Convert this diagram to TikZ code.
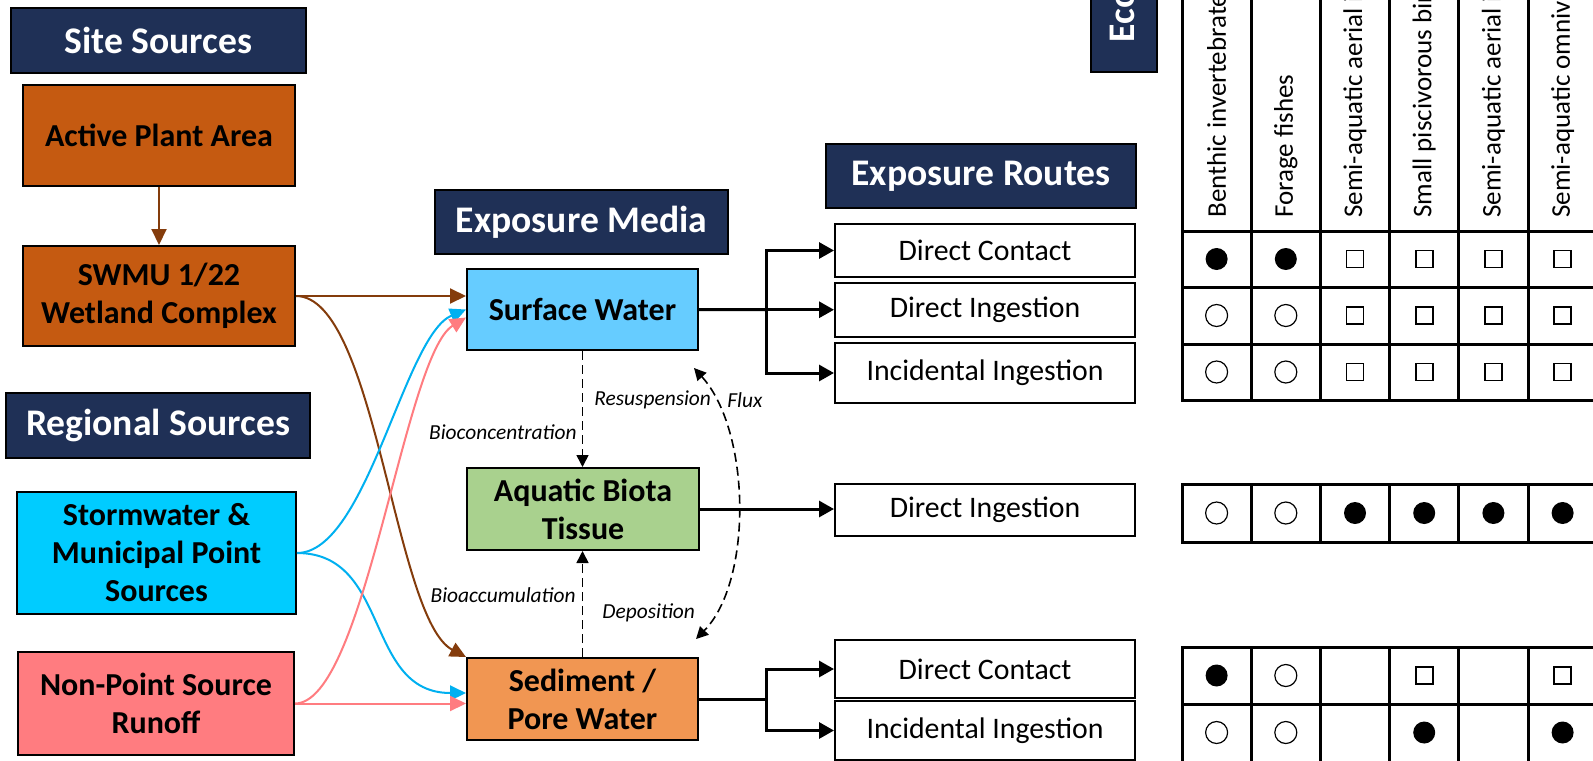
\documentclass[tikz,border=0pt]{standalone}
\usepackage{fontspec}
\setmainfont{Carlito}
\usetikzlibrary{arrows.meta, positioning, calc}
\definecolor{hdrnavy}{RGB}{31, 48, 86}
\definecolor{siteorange}{RGB}{197, 90, 17}
\definecolor{stormcyan}{RGB}{0, 204, 255}
\definecolor{runoffpink}{RGB}{255, 124, 128}
\definecolor{waterblue}{RGB}{102, 204, 255}
\definecolor{biotagreen}{RGB}{169, 209, 142}
\definecolor{sedorange}{RGB}{241, 150, 82}
\definecolor{flowbrown}{RGB}{132, 60, 12}
\definecolor{flowcyan}{RGB}{0, 176, 240}

\tikzset{
  header/.style={draw=black, fill=hdrnavy, text=white, line width=0.8pt,
    inner sep=0pt, font=\fontsize{18.8}{22}\selectfont\bfseries},
  srcbox/.style={draw=black, line width=1pt, inner sep=0pt, align=center,
    font=\fontsize{16}{19}\selectfont\bfseries},
  routebox/.style={draw=black, line width=1pt, fill=white, inner sep=0pt,
    minimum width=150pt, font=\fontsize{14.9}{17}\selectfont},
  srcflow/.style={line width=1pt, -{Triangle[length=8pt, width=7.5pt]}},
  route/.style={line width=1.5pt, -{Triangle[length=7.5pt, width=8pt]}},
  uptake/.style={line width=0.8pt, dash pattern=on 4.5pt off 2.5pt,
    -{Triangle[length=6pt, width=6pt]}},
  proc/.style={inner sep=0pt, font=\fontsize{10.7}{12}\selectfont\itshape},
  receptor/.style={rotate=90, anchor=west, inner sep=0pt,
    font=\fontsize{13.5}{15}\selectfont},
  tableline/.style={line width=1.5pt, line cap=rect},
  markF/.style={circle, fill=black, minimum size=11pt, inner sep=0pt},
  markO/.style={circle, draw=black, line width=0.6pt, minimum size=11pt, inner sep=0pt},
  markS/.style={rectangle, draw=black, line width=0.8pt, minimum size=8.5pt, inner sep=0pt},
  markN/.style={inner sep=0pt}
}

\begin{document}
\begin{tikzpicture}[x=0.5pt, y=-0.5pt]
    \useasboundingbox (0,0) rectangle (1593,760);
    \path[fill=white] (0,0) rectangle (1593,760);

    % Sources
    \node[header, minimum width=147.5pt, minimum height=32.5pt] (sitehdr) at (158.5,40.5) {Site Sources};
    \node[srcbox, fill=siteorange, minimum width=136pt, minimum height=50.5pt] (plant) at (159,135.5) {Active Plant Area};
    \node[srcbox, fill=siteorange, minimum width=136pt, minimum height=50pt] (swmu) at (159,296) {SWMU 1/22\\Wetland Complex};
    \node[header, minimum width=152pt, minimum height=32.5pt] (reghdr) at (158,425.5) {Regional Sources};
    \node[srcbox, fill=stormcyan, minimum width=139.5pt, minimum height=61pt] (storm) at (156.5,553) {Stormwater \&\\Municipal Point\\Sources};
    \node[srcbox, fill=runoffpink, minimum width=138pt, minimum height=51.5pt] (runoff) at (156,703.5) {Non-Point Source\\Runoff};

    % Exposure media
    \node[header, minimum width=146.5pt, minimum height=32pt] (mediahdr) at (581.5,222) {Exposure Media};
    \node[srcbox, fill=waterblue, minimum width=115.5pt, minimum height=40.5pt] (water) at (582.5,309.5) {Surface Water};
    \node[srcbox, fill=biotagreen, minimum width=116pt, minimum height=41pt] (biota) at (583,509) {Aquatic Biota\\Tissue};
    \node[srcbox, fill=sedorange, minimum width=115.5pt, minimum height=41pt] (sed) at (582.5,699) {Sediment /\\Pore Water};

    % Exposure routes
    \node[header, minimum width=155pt, minimum height=32pt] (routehdr) at (981,176) {Exposure Routes};
    \node[routebox, minimum height=26.5pt] (wcontact) at (985,250.5) {Direct Contact};
    \node[routebox, minimum height=27pt] (wingest) at (985,310) {Direct Ingestion};
    \node[routebox, minimum height=30pt] (wincid) at (985,373) {Incidental Ingestion};
    \node[routebox, minimum height=26pt] (bingest) at (985,510) {Direct Ingestion};
    \node[routebox, minimum height=29pt] (scontact) at (985,669) {Direct Contact};
    \node[routebox, minimum height=29.5pt] (sincid) at (985,730.5) {Incidental Ingestion};

    % Source flows
    \draw[srcflow, flowbrown] (plant) -- (swmu);
    \draw[srcflow, flowbrown] (swmu.east) -- (swmu.east -| water.west);
    \draw[srcflow, flowbrown] (swmu.east) .. controls +(80,0) and +(-72,-38) .. (sed.north west);
    \draw[srcflow, flowcyan] (storm.east) .. controls +(70,0) and +(-62,26) .. (water.west);
    \draw[srcflow, flowcyan] (storm.east) .. controls +(94,0) and +(-102,0) .. ($(sed.west)+(0,-6)$);
    \draw[srcflow, runoffpink] (runoff.east) .. controls +(70,0) and +(-62,38) .. ($(water.west)+(0,8)$);
    \draw[srcflow, runoffpink] (runoff.east) -- (runoff.east -| sed.west);

    % Transfers between media
    \coordinate (fluxtop) at ($(water.south east)+(-5,17)$);
    \coordinate (fluxbot) at ($(sed.north east)+(-3,-18)$);
    \draw[uptake] (water.south) -- (water.south |- biota.north);
    \draw[uptake] (sed.north) -- (sed.north |- biota.south);
    \draw[uptake, {Triangle[length=6pt, width=6pt]}-{Triangle[length=6pt, width=6pt]}]
      (fluxtop) .. controls +(57,63) and +(57,-58) .. (fluxbot);
    \node[proc, anchor=east] (bioconc) at (577,432) {Bioconcentration};
    \node[proc, anchor=west] (resusp) at (594,400) {Resuspension};
    \node[proc, anchor=west] (flux) at (727,400) {Flux};
    \node[proc, anchor=east] (bioacc) at (576,595) {Bioaccumulation};
    \node[proc, anchor=west] (depos) at (602,613) {Deposition};

    % Route branches
    \coordinate (waterfork) at ($(water.east)!.5!(wingest.west)$);
    \coordinate (sedfork) at ($(sed.east)!.5!(sed.east -| scontact.west)$);
    \draw[line width=1.5pt] (water.east) -- (waterfork);
    \draw[route] (waterfork) |- (wcontact.west);
    \draw[route] (waterfork) -- (waterfork -| wingest.west);
    \draw[route] (waterfork) |- (wincid.west);
    \draw[route] (biota.east) -- (biota.east -| bingest.west);
    \draw[line width=1.5pt] (sed.east) -- (sedfork);
    \draw[route] (sedfork) |- (scontact.west);
    \draw[route] (sedfork) |- (sincid.west);

    % Receptor table
    \node[header, rotate=90, anchor=west, inner xsep=15pt, minimum height=33pt] (ecohdr) at (1124,73) {Ecological Receptors};
    \foreach \c in {0,...,6}{
      \draw[tableline] (1182+\c*69.2,-10) -- (1182+\c*69.2,400);
      \draw[tableline] (1182+\c*69.2,484) -- (1182+\c*69.2,542);
      \draw[tableline] (1182+\c*69.2,647) -- (1182+\c*69.2,770);
    }
    \foreach \y in {231,287,344,400,484,542,647,704}{
      \draw[tableline] (1182,\y) -- (1600,\y);
    }
    \foreach \txt [count=\c] in {Benthic invertebrates, Forage fishes,
        Semi-aquatic aerial insectivorous birds, Small piscivorous birds,
        Semi-aquatic aerial insectivorous mammals, Semi-aquatic omnivorous mammals}{
      \node[receptor] (rc\c) at (1147.4+\c*69.2,218) {\txt};
    }
    % F full dot, O open dot, S square, N empty
    \foreach \y/\marks [count=\r] in {259/{F,F,S,S,S,S}, 315.5/{O,O,S,S,S,S},
        372/{O,O,S,S,S,S}, 513/{O,O,F,F,F,F}, 675.5/{F,O,N,S,N,S}, 732.5/{O,O,N,F,N,F}}{
      \foreach \m [count=\c] in \marks {
        \node[mark\m] (m\r-\c) at (1147.4+\c*69.2,\y) {};
      }
    }
\end{tikzpicture}
\end{document}
